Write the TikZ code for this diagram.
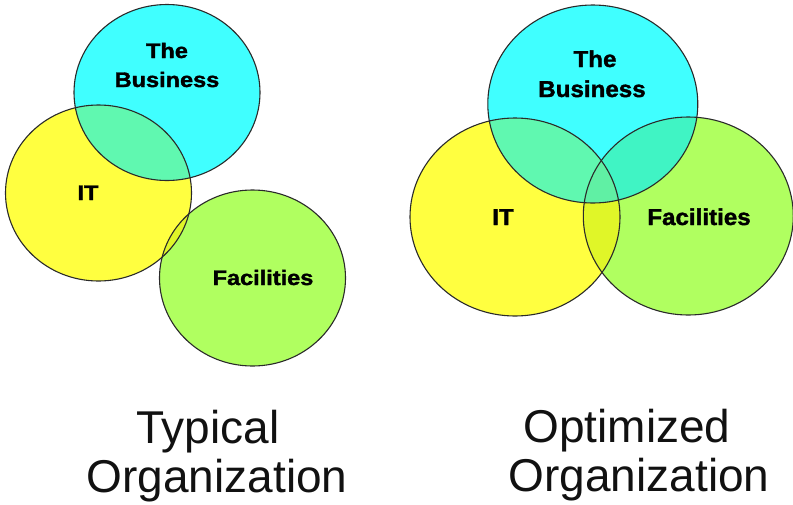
\documentclass[tikz,border=0pt]{standalone}
\usepackage{fontspec}
\setmainfont{Liberation Sans}
\newfontface\heavy{Liberation Sans Bold}[FakeBold=1.5]
\definecolor{cbus}{HTML}{40FFFF}
\definecolor{cit}{HTML}{FFFF40}
\definecolor{cfac}{HTML}{B0FF60}
\definecolor{cbi}{HTML}{60F8B0}
\definecolor{cbf}{HTML}{40F4C4}
\definecolor{cif}{HTML}{E0F628}
\definecolor{cbif}{HTML}{60F0A4}
\definecolor{cline}{HTML}{2A2A2A}
\definecolor{ctext}{HTML}{111111}
\tikzset{
  lrad/.style={x radius=93pt, y radius=88pt},
  rrad/.style={x radius=105pt, y radius=99pt},
  outline/.style={draw=cline, line width=1.1pt},
  sml/.style={font=\heavy\fontsize{21}{21}\selectfont, inner sep=0pt, anchor=base, xscale=1.12},
  smr/.style={font=\heavy\fontsize{23}{23}\selectfont, inner sep=0pt, anchor=base, xscale=1.05},
  captxt/.style={font=\fontsize{46}{49}\selectfont, text=ctext, inner sep=0pt, anchor=north, align=center}
}
\begin{document}
\begin{tikzpicture}[x=1pt,y=-1pt]
\useasboundingbox (0,0) rectangle (793,504);
% ---- left: typical
\coordinate (LB) at (167,92.5);
\coordinate (LI) at (98.5,193);
\coordinate (LF) at (252.5,278);
\fill[cbus] (LB) ellipse[lrad];
\fill[cit] (LI) ellipse[lrad];
\fill[cfac] (LF) ellipse[lrad];
\begin{scope}
  \clip (LB) ellipse[lrad];
  \fill[cbi] (LI) ellipse[lrad];
\end{scope}
\begin{scope}
  \clip (LI) ellipse[lrad];
  \fill[cif] (LF) ellipse[lrad];
\end{scope}
\draw[outline] (LB) ellipse[lrad];
\draw[outline] (LI) ellipse[lrad];
\draw[outline] (LF) ellipse[lrad];
\node[sml] (lthe) at (167,58) {The};
\node[sml] (lbus) at (167,87) {Business};
\node[sml] (lit) at (88,200) {IT};
\node[sml] (lfac) at (263,285) {Facilities};
% ---- right: optimized
\coordinate (RB) at (592.8,104);
\coordinate (RI) at (515,217);
\coordinate (RF) at (688.3,216);
\fill[cbus] (RB) ellipse[rrad];
\fill[cit] (RI) ellipse[rrad];
\fill[cfac] (RF) ellipse[rrad];
\begin{scope}
  \clip (RB) ellipse[rrad];
  \fill[cbi] (RI) ellipse[rrad];
  \fill[cbf] (RF) ellipse[rrad];
\end{scope}
\begin{scope}
  \clip (RI) ellipse[rrad];
  \fill[cif] (RF) ellipse[rrad];
  \clip (RF) ellipse[rrad];
  \fill[cbif] (RB) ellipse[rrad];
\end{scope}
\draw[outline] (RB) ellipse[rrad];
\draw[outline] (RI) ellipse[rrad];
\draw[outline] (RF) ellipse[rrad];
\node[smr] (rthe) at (595,67) {The};
\node[smr] (rbus) at (592,97) {Business};
\node[smr] (rit) at (503,225) {IT};
\node[smr] (rfac) at (699,225) {Facilities};
% ---- captions
\node[captxt] (typ) at (217,409.5) {Typical\hspace*{18pt}\\Organization};
\node[captxt] (opt) at (639,409) {Optimized\hspace*{24pt}\\Organization};
\end{tikzpicture}
\end{document}
